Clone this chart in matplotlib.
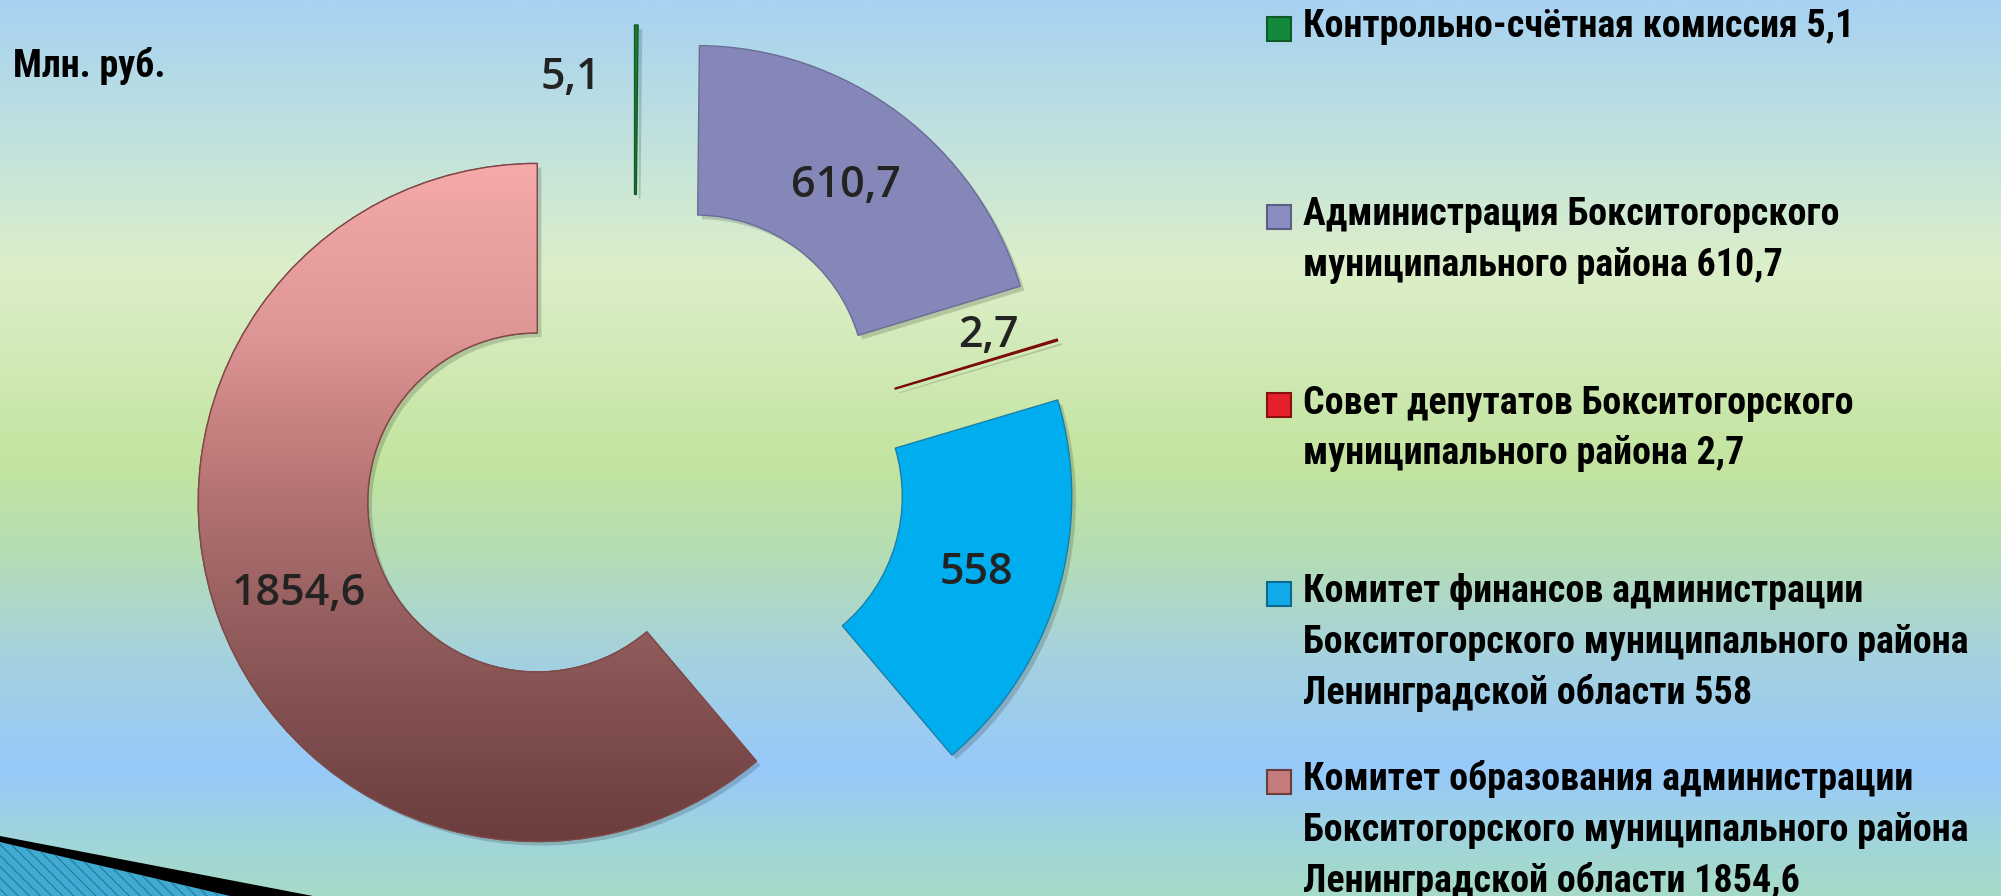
import numpy as np
import matplotlib
matplotlib.use("Agg")
import matplotlib.pyplot as plt
from matplotlib import patches as mpatches
from matplotlib import patheffects as pe
from matplotlib.colors import LinearSegmentedColormap
from matplotlib import font_manager as fm

# ---------------- data ----------------
categories = [
    "Контрольно-счётная комиссия",
    "Администрация Бокситогорского\nмуниципального района",
    "Совет депутатов Бокситогорского\nмуниципального района",
    "Комитет финансов администрации\nБокситогорского муниципального района\nЛенинградской области",
    "Комитет образования администрации\nБокситогорского муниципального района\nЛенинградской области",
]
values = [5.1, 610.7, 2.7, 558.0, 1854.6]
value_labels = ["5,1", "610,7", "2,7", "558", "1854,6"]
unit_label = "Млн. руб."

# ---------------- styles ----------------
wedge_colors = ["#1C7A34", "#8587B8", "#A01010", "#00AEEF", "#C07878"]
edge_colors = ["#145A26", "#6A6C98", "#7A0A0A", "#1A7FA8", "#7E4848"]
legend_colors = ["#15893B", "#8B8DC1", "#E3202B", "#12A9E8", "#C47C7C"]
legend_edges = ["#0E5A28", "#5C5E86", "#8A1010", "#0C6A90", "#6E3C3C"]

names = {f.name for f in fm.fontManager.ttflist}
leg_font = "Roboto"
for cand in ["Liberation Sans Narrow", "Roboto Condensed", "Open Sans Condensed", "Roboto"]:
    if cand in names:
        leg_font = cand
        break
num_font = "Open Sans" if "Open Sans" in names else "DejaVu Sans"

W_px, H_px = 2001, 896
fig = plt.figure(figsize=(W_px / 100, H_px / 100), dpi=100)

# ---------------- background ----------------
bg = fig.add_axes([0, 0, 1, 1])
bg_stops = [(0.00, "#A7D2F2"), (0.12, "#BADEE2"), (0.30, "#DCEFC9"),
            (0.52, "#C3E49F"), (0.62, "#B5DDB5"), (0.74, "#A4D1E0"),
            (0.86, "#97C9FA"), (0.94, "#A0D5DB"), (1.00, "#A6DBC8")]
bg_cmap = LinearSegmentedColormap.from_list("bg", bg_stops)
bg.imshow(np.linspace(0, 1, 512).reshape(-1, 1), cmap=bg_cmap, aspect="auto",
          extent=(0, W_px, H_px, 0), origin="upper", interpolation="bilinear", zorder=0)
bg.set_xlim(0, W_px)
bg.set_ylim(H_px, 0)
bg.axis("off")

# bottom-left decoration
bg.add_patch(mpatches.Polygon([(0, 836), (313, 896), (0, 896)], closed=True,
                              facecolor="black", edgecolor="none", zorder=2))
plt.rcParams["hatch.linewidth"] = 0.8
bg.add_patch(mpatches.Polygon([(0, 842), (230, 896), (0, 896)], closed=True,
                              facecolor="#40AAD2", edgecolor="#23799A", linewidth=0,
                              hatch="\\\\\\", zorder=3))

# ---------------- donut ----------------
R_px = 339.0
cx_px, cy_px = 634.0, 467.0
ax = fig.add_axes([0, 0, 1, 1])
wedges, _ = ax.pie(values, colors=wedge_colors, startangle=90, counterclock=False,
                   explode=[0.304] * len(values), radius=1.0,
                   wedgeprops=dict(width=0.5, linewidth=1.0))
shadow = [pe.SimplePatchShadow(offset=(3, -3), shadow_rgbFace="black", alpha=0.16), pe.Normal()]
for w, ec in zip(wedges, edge_colors):
    w.set_edgecolor(ec)
    w.set_path_effects(shadow)

# gradient fill on the large wedge
pw = wedges[4]
pcx, pcy = pw.center
pink_stops = [(0.0, "#F6AAAA"), (0.25, "#DF9696"), (0.42, "#C27C7C"),
              (0.55, "#A96C6C"), (0.75, "#8A5656"), (1.0, "#6B3D3D")]
pcmap = LinearSegmentedColormap.from_list("pink", pink_stops)
im = ax.imshow(np.linspace(0, 1, 256).reshape(-1, 1), cmap=pcmap, aspect="auto",
               extent=(pcx - 1, pcx + 1, pcy - 1, pcy + 1), origin="upper",
               interpolation="bilinear", zorder=pw.get_zorder() + 0.1)
im.set_clip_path(pw)
ax.add_patch(mpatches.Wedge(pw.center, 1.0, pw.theta1, pw.theta2, width=0.5, fill=False,
                            edgecolor=edge_colors[4], linewidth=1.0, zorder=pw.get_zorder() + 0.2))

# value labels
label_offsets_px = [(-65, -36), (-3, 1), (12, -32), (0, 0), (0, 0)]
ring_mid = 0.75
cap_half_px = 15
for w, lab, (dx, dy) in zip(wedges, value_labels, label_offsets_px):
    th = np.deg2rad((w.theta1 + w.theta2) / 2)
    x = w.center[0] + ring_mid * np.cos(th) + dx / R_px
    y = w.center[1] + ring_mid * np.sin(th) - (dy + cap_half_px) / R_px
    ax.text(x, y, lab, ha="center", va="baseline", fontsize=31, color="#232323",
            family=num_font, weight="semibold", zorder=10)

ax.set_xlim(-cx_px / R_px, (W_px - cx_px) / R_px)
ax.set_ylim(-(H_px - cy_px) / R_px, cy_px / R_px)
ax.set_aspect("auto")
ax.axis("off")

# ---------------- legend ----------------
renderer = fig.canvas.get_renderer()
marker_x, marker_size = 1267, 24
text_x = 1303
first_baseline, item_step, line_step = 37, 188.25, 51
legend_texts = [f"{c} {v}" for c, v in zip(categories, value_labels)]

probe = bg.text(text_x, first_baseline, legend_texts[0].split("\n")[0], fontsize=24,
                weight="bold", family=leg_font)
wid = probe.get_window_extent(renderer=renderer).width
leg_fs = 24 * 553.0 / wid
probe.remove()

for i, (txt, fc, ec) in enumerate(zip(legend_texts, legend_colors, legend_edges)):
    base = first_baseline + i * item_step
    bg.add_patch(mpatches.Rectangle((marker_x, base - 20), marker_size, marker_size,
                                    facecolor=fc, edgecolor=ec, linewidth=1.5, zorder=4))
    for j, line in enumerate(txt.split("\n")):
        bg.text(text_x, base + j * line_step, line, fontsize=leg_fs, weight="bold",
                family=leg_font, color="black", va="baseline", ha="left", zorder=5)

bg.text(13, 77, unit_label, fontsize=leg_fs, weight="bold", family=leg_font,
        color="black", va="baseline", ha="left", zorder=5)

fig.savefig("out.png", dpi=100)
